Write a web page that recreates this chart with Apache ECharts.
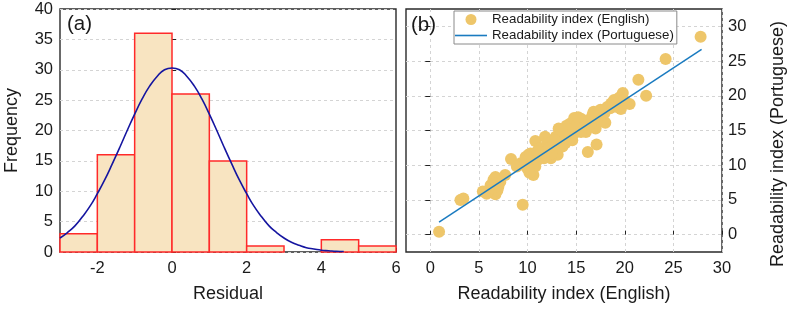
<!DOCTYPE html>
<html>
<head>
<meta charset="utf-8">
<script src="https://cdn.jsdelivr.net/npm/echarts@6/dist/echarts.min.js"></script>
<style>html,body{margin:0;padding:0;background:#fff;}#c{width:789px;height:310px;}</style>
</head>
<body>
<div id="c"></div>
<script>
// ---- Panel (a): histogram of residuals ----
var binStart = [-3, -2, -1, 0, 1, 2, 3, 4, 5];
var binEnd   = [-2, -1, 0, 1, 2, 3, 4, 5, 6];
var binCount = [3, 16, 36, 26, 15, 1, 0, 2, 1];
var residTicks = [-2, 0, 2, 4, 6];
var freqTicks = [0, 5, 10, 15, 20, 25, 30, 35, 40];
// fitted normal curve
var curveX = [-3, -2.8, -2.6, -2.4, -2.2, -2, -1.8, -1.6, -1.4, -1.2, -1, -0.8, -0.6, -0.4, -0.2, 0,
              0.2, 0.4, 0.6, 0.8, 1, 1.2, 1.4, 1.6, 1.8, 2, 2.2, 2.4, 2.6, 2.8, 3, 3.2, 3.4, 3.6, 3.8, 4, 4.2, 4.4, 4.6];
var curveY = [2.3, 3.2, 4.3, 5.8, 7.5, 9.6, 11.9, 14.5, 17.2, 20.0, 22.7, 25.2, 27.3, 28.9, 30.0, 30.3,
              30.0, 28.9, 27.3, 25.2, 22.7, 20.0, 17.2, 14.5, 11.9, 9.6, 7.5, 5.8, 4.3, 3.2, 2.3, 1.6, 1.1, 0.7, 0.5, 0.3, 0.2, 0.1, 0.07];

// ---- Panel (b): readability scatter ----
var engX = [0.9, 3.1, 3.4, 9.5, 27.8, 24.2, 21.4, 22.2, 16.2, 17.1, 16.0, 8.3, 10.6, 6.7, 7.7, 5.4, 6.7, 6.2, 7.0, 6.0,
            10.8, 11.8, 12.4, 14.8, 16.8, 17.0, 18.0, 19.8, 20.5, 19.6, 18.9, 18.5, 13.6, 13.2, 14.0, 15.5, 14.8, 14.3, 13.1, 12.4,
            11.5, 10.1, 10.1, 10.0, 10.8, 9.3, 11.2, 12.0, 12.7, 13.4, 13.9, 14.6, 15.1, 16.0, 16.3, 17.5, 17.9, 18.2, 19.2, 19.4,
            17.5, 15.6, 14.4, 13.7, 12.9, 12.0, 11.3, 10.5, 9.8, 10.3, 13.1, 14.1, 12.5, 11.7, 7.2, 6.5, 5.8, 6.9, 6.4, 8.9,
            10.5, 11.0, 17.5, 18.6, 19.9, 15.0, 15.5, 16.5, 15.2, 14.2, 11.0, 9.7, 12.8, 17.2, 18.8, 6.6, 10.2, 13.5, 16.7, 12.2];
var porY = [0.4, 5.0, 5.2, 4.3, 28.5, 25.3, 22.3, 20.0, 11.9, 13.0, 14.8, 10.9, 8.6, 8.3, 8.6, 6.2, 5.8, 7.1, 6.9, 6.2,
            13.5, 14.1, 13.2, 16.8, 17.7, 15.3, 16.1, 20.4, 18.8, 18.1, 19.4, 18.2, 12.7, 15.3, 15.7, 16.7, 14.6, 14.1, 11.5, 11.0,
            11.5, 11.5, 10.3, 9.5, 9.8, 10.3, 12.4, 11.9, 12.7, 13.6, 13.2, 13.6, 15.1, 15.8, 16.5, 17.0, 17.5, 18.4, 18.4, 19.7,
            16.3, 15.8, 16.0, 14.8, 14.1, 13.2, 11.9, 10.7, 11.2, 11.7, 12.4, 13.9, 11.7, 11.0, 7.6, 7.9, 5.9, 6.4, 6.7, 9.8,
            9.3, 10.7, 18.0, 18.9, 19.4, 15.6, 14.8, 16.0, 16.9, 15.2, 12.0, 10.0, 13.6, 16.8, 19.0, 7.4, 8.9, 15.0, 17.3, 12.5];
var fitX = [0.9, 27.9];
var fitY = [1.8, 26.7];
var engTicks = [0, 5, 10, 15, 20, 25, 30];
var porTicks = [0, 5, 10, 15, 20, 25, 30];

var FONT = 'Liberation Sans, Arial, sans-serif';
var TXT = '#1a1a1a';

var histData = binStart.map(function (s, i) { return [s, binEnd[i], binCount[i]]; });
var curveData = curveX.map(function (x, i) { return [x, curveY[i]]; });
var scatterData = engX.map(function (x, i) { return [x, porY[i]]; });
var fitData = fitX.map(function (x, i) { return [x, fitY[i]]; });

var dashed = { show: true, lineStyle: { color: '#d4d4d4', type: [3, 3], width: 1 } };

var chart = echarts.init(document.getElementById('c'), null, { renderer: 'canvas' });
chart.setOption({
  animation: false,
  backgroundColor: '#fff',
  textStyle: { fontFamily: FONT },
  grid: [
    { left: 60, top: 9, width: 336, height: 243, show: true, borderColor: '#2a2a2a', borderWidth: 1.4, backgroundColor: 'transparent' },
    { left: 406, top: 9, width: 316, height: 243, show: true, borderColor: '#2a2a2a', borderWidth: 1.4, backgroundColor: 'transparent' }
  ],
  xAxis: [
    {
      gridIndex: 0, type: 'value', min: -3, max: 6,
      name: 'Residual', nameLocation: 'middle', nameGap: 33,
      nameTextStyle: { fontSize: 18, color: TXT, fontFamily: FONT },
      axisLine: { show: false },
      axisTick: { show: true, inside: true, length: 4, customValues: residTicks, lineStyle: { color: '#222' } },
      axisLabel: { customValues: residTicks, fontSize: 16.5, color: TXT, margin: 8, fontFamily: FONT },
      splitLine: { show: false }
    },
    {
      gridIndex: 1, type: 'value', min: -2.5, max: 30,
      name: 'Readability index (English)', nameLocation: 'middle', nameGap: 33,
      nameTextStyle: { fontSize: 18, color: TXT, fontFamily: FONT },
      axisLine: { show: false },
      axisTick: { show: true, inside: true, length: 4, customValues: engTicks, lineStyle: { color: '#222' } },
      axisLabel: { customValues: engTicks, fontSize: 16.5, color: TXT, margin: 8, fontFamily: FONT },
      splitLine: dashed
    }
  ],
  yAxis: [
    {
      gridIndex: 0, type: 'value', min: 0, max: 40, interval: 5,
      name: 'Frequency', nameLocation: 'middle', nameGap: 39,
      nameTextStyle: { fontSize: 18, color: TXT, fontFamily: FONT },
      axisLine: { show: false },
      axisTick: { show: true, inside: true, length: 4, lineStyle: { color: '#222' } },
      axisLabel: { fontSize: 16.5, color: TXT, margin: 7, fontFamily: FONT },
      splitLine: dashed
    },
    {
      gridIndex: 1, type: 'value', min: -2.5, max: 32.5, position: 'right',
      axisLine: { show: false },
      axisTick: { show: true, inside: true, length: 5, customValues: porTicks, lineStyle: { color: '#222' } },
      axisLabel: { customValues: porTicks, fontSize: 16.5, color: TXT, margin: 6, fontFamily: FONT },
      splitLine: dashed
    }
  ],
  legend: {
    left: 454, top: 11, orient: 'vertical',
    padding: [2, 3, 2, 1], itemGap: 3, itemWidth: 32, itemHeight: 11,
    backgroundColor: '#fff', borderColor: '#8a8a8a', borderWidth: 1, borderRadius: 0,
    symbolKeepAspect: true,
    textStyle: { fontSize: 13.3, color: TXT, fontFamily: FONT },
    data: [
      { name: 'Readability index (English)', icon: 'circle' },
      { name: 'Readability index (Portuguese)', icon: 'path://M0,0 L32,0 L32,1.6 L0,1.6 Z' }
    ]
  },
  graphic: [
    { type: 'text', left: 67, top: 14, z: 100, style: { text: '(a)', font: '20.5px ' + FONT, fill: TXT } },
    { type: 'text', left: 411, top: 15, z: 100, style: { text: '(b)', font: '20.5px ' + FONT, fill: TXT } },
    { type: 'text', x: 778, y: 144, rotation: Math.PI / 2, z: 100,
      style: { text: 'Readability index (Portuguese)', font: '18px ' + FONT, fill: TXT, align: 'center', verticalAlign: 'middle' } }
  ],
  series: [
    {
      type: 'custom', xAxisIndex: 0, yAxisIndex: 0, z: 2,
      data: histData,
      encode: { x: [0, 1], y: 2 },
      renderItem: function (params, api) {
        var c = api.value(2);
        if (!c) return null;
        var p0 = api.coord([api.value(0), c]);
        var p1 = api.coord([api.value(1), 0]);
        return {
          type: 'rect',
          shape: { x: p0[0], y: p0[1], width: p1[0] - p0[0], height: p1[1] - p0[1] },
          style: { fill: '#F8E4C1', stroke: '#FF2A2A', lineWidth: 1.5 }
        };
      }
    },
    {
      type: 'line', xAxisIndex: 0, yAxisIndex: 0, z: 3,
      data: curveData, smooth: true, showSymbol: false, symbol: 'none',
      lineStyle: { color: '#1515A0', width: 1.6 }, itemStyle: { color: '#1515A0' }
    },
    {
      name: 'Readability index (English)',
      type: 'scatter', xAxisIndex: 1, yAxisIndex: 1, z: 3,
      data: scatterData, symbol: 'circle', symbolSize: 12,
      itemStyle: { color: '#EEC66A', opacity: 1 }
    },
    {
      name: 'Readability index (Portuguese)',
      type: 'line', xAxisIndex: 1, yAxisIndex: 1, z: 4,
      data: fitData, showSymbol: false, symbol: 'none',
      lineStyle: { color: '#1A7BC0', width: 1.5 }, itemStyle: { color: '#1A7BC0' }
    }
  ]
});
</script>
</body>
</html>
